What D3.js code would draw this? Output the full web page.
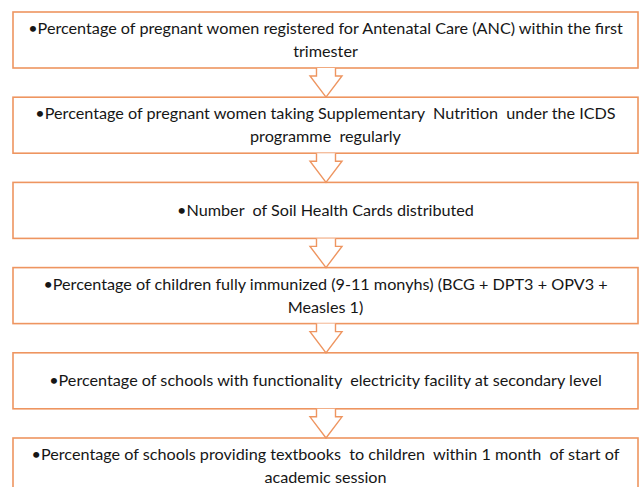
<!DOCTYPE html>
<html>
<head>
<meta charset="utf-8">
<script src="https://cdn.jsdelivr.net/npm/d3@7"></script>
<style>
  body { margin: 0; background: #fff; }
  svg { display: block; }
</style>
</head>
<body>
<div class="canvas"></div>
<script>
// the six indicators, one entry per box, already broken into lines as in the source
const indicators = [
    ['•Percentage of pregnant women registered for Antenatal Care (ANC) within the first', 'trimester'],
    ['•Percentage of pregnant women taking Supplementary  Nutrition  under the ICDS', 'programme  regularly'],
    ['•Number  of Soil Health Cards distributed'],
    ['•Percentage of children fully immunized (9-11 monyhs) (BCG + DPT3 + OPV3 +', 'Measles 1)'],
    ['•Percentage of schools with functionality  electricity facility at secondary level'],
    ['•Percentage of schools providing textbooks  to children  within 1 month  of start of', 'academic session']
];
const steps = d3.range(indicators.length);

const width = 640;
const height = 487;
const orange = '#EE9560';

const svg = d3.select('.canvas').append('svg')
    .attr('width', width)
    .attr('height', height);

// one band per step; the box is the first part of each band, the arrow fills the gap
const y = d3.scaleLinear()
    .domain([0, steps.length])
    .range([12, 12 + 85.2 * steps.length]);
const boxH = 56;
const x0 = 13, x1 = 638;
const cx = 326;

const step = svg.selectAll('g.step')
    .data(steps)
    .enter().append('g')
    .attr('class', 'step')
    .attr('transform', d => `translate(0,${y(d)})`);

step.append('rect')
    .attr('x', x0)
    .attr('y', 0)
    .attr('width', x1 - x0)
    .attr('height', boxH)
    .attr('fill', '#fff')
    .attr('stroke', orange)
    .attr('stroke-width', 1.6);

step.append('text')
    .attr('text-anchor', 'middle')
    .attr('fill', '#161616')
    .style('font-family', 'Lato, sans-serif')
    .style('font-size', '16.2px')
    .style('white-space', 'pre')
    .each(function(d) {
        const lines = indicators[d];
        const lineH = 23;
        const top = boxH / 2 - (lines.length - 1) * lineH / 2;
        d3.select(this).selectAll('tspan')
            .data(lines)
            .enter().append('tspan')
            .attr('x', (x0 + x1) / 2)
            .attr('y', (t, i) => top + i * lineH)
            .attr('dy', '0.35em')
            .text(t => t);
    });

// hollow block arrow between consecutive boxes
const gap = y(1) - y(0) - boxH;
const arrow = d3.path();
arrow.moveTo(cx - 9.5, 0);
arrow.lineTo(cx - 9.5, 8);
arrow.lineTo(cx - 16, 8);
arrow.lineTo(cx, gap);
arrow.lineTo(cx + 16, 8);
arrow.lineTo(cx + 9.5, 8);
arrow.lineTo(cx + 9.5, 0);

svg.selectAll('path.arrow')
    .data(steps.slice(0, -1))
    .enter().append('path')
    .attr('class', 'arrow')
    .attr('transform', d => `translate(0,${y(d) + boxH})`)
    .attr('d', arrow.toString())
    .attr('fill', '#fff')
    .attr('stroke', orange)
    .attr('stroke-width', 1.4)
    .attr('stroke-linejoin', 'miter');
</script>
</body>
</html>
